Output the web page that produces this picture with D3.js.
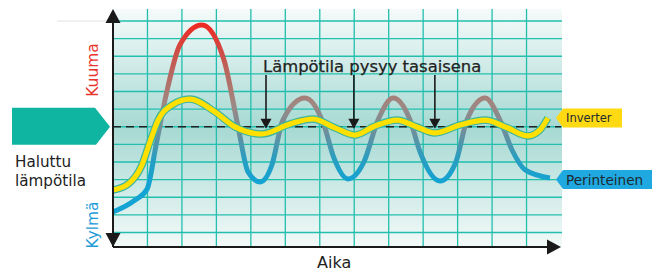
<!DOCTYPE html>
<html>
<head>
<meta charset="utf-8">
<script src="https://cdn.jsdelivr.net/npm/d3@7"></script>
<style>
  body { margin: 0; background: #fff; }
  svg { display: block; }
  text { font-family: "DejaVu Sans", sans-serif; }
</style>
</head>
<body>
<svg id="chart" width="660" height="273"></svg>
<script>
// time in grid columns, temperature in grid rows
const gridCols = [1, 2, 3, 4, 5, 6, 7, 8, 9, 10, 11, 12];
const gridRows = [0, 1, 2, 3, 4, 5, 6, 7, 8, 9, 10, 11, 12];

const traditionalT = [0, 0.64, 0.99, 1.25, 1.54, 1.94, 2.58, 3.22, 3.63, 3.92, 4.27, 4.61, 4.93, 5.57, 6.12, 6.41, 6.82, 7.28, 7.69, 8.13, 8.62, 8.91, 9.49, 9.95, 10.27, 10.8, 11.23, 11.58, 11.96, 12.68];
const traditionalV = [1.16, 1.84, 2.47, 4.96, 7.8, 10.64, 11.77, 9.79, 5.99, 3.43, 2.87, 3.83, 6.38, 7.63, 6.1, 4.23, 3.04, 4.0, 6.38, 7.63, 6.38, 4.57, 2.92, 4.0, 6.38, 7.63, 6.38, 4.68, 3.55, 3.09];

const inverterT = [0, 0.44, 0.84, 1.07, 1.31, 1.71, 2.23, 2.96, 3.54, 4.32, 5.14, 5.8, 6.44, 7.02, 7.6, 8.24, 8.82, 9.34, 10.07, 10.8, 11.44, 12.04, 12.39, 12.62];
const inverterV = [2.41, 2.75, 3.83, 5.13, 6.38, 7.23, 7.57, 6.84, 5.99, 5.59, 6.16, 6.44, 5.94, 5.53, 6.04, 6.38, 5.99, 5.65, 6.1, 6.38, 5.94, 5.48, 5.82, 6.5];

const setPoint = 6;
const arrowTimes = [4.44, 6.99, 9.34];
const arrowTop = 8.94;

const svg = d3.select('#chart');
const x = d3.scaleLinear().domain([0, 13]).range([113, 561]);
const y = d3.scaleLinear().domain([0, 12]).range([232.5, 21]);
const plotTop = 9, plotBottom = 247;

const defs = svg.append('defs');
const bg = defs.append('linearGradient').attr('id', 'bg')
  .attr('x1', 0).attr('y1', 0).attr('x2', 0).attr('y2', 1);
bg.append('stop').attr('offset', '0%').attr('stop-color', '#f5fbfa');
bg.append('stop').attr('offset', '50%').attr('stop-color', '#a7d9d3');
bg.append('stop').attr('offset', '100%').attr('stop-color', '#f3faf9');

const hot = defs.append('linearGradient').attr('id', 'hot')
  .attr('gradientUnits', 'userSpaceOnUse')
  .attr('x1', 0).attr('x2', 0).attr('y1', y(11.8)).attr('y2', y(2.9));
hot.append('stop').attr('offset', '0%').attr('stop-color', '#ee2a24');
hot.append('stop').attr('offset', '30%').attr('stop-color', '#b8665e');
hot.append('stop').attr('offset', '50%').attr('stop-color', '#a18680');
hot.append('stop').attr('offset', '68%').attr('stop-color', '#6f8f9b');
hot.append('stop').attr('offset', '85%').attr('stop-color', '#2a9dbf');
hot.append('stop').attr('offset', '100%').attr('stop-color', '#14a3d2');

// stray top line left of the axis
svg.append('line').attr('x1', 57).attr('x2', x(0)).attr('y1', y(12)).attr('y2', y(12))
  .attr('stroke', '#e2e2e2').attr('stroke-width', 1);

svg.append('rect').attr('x', x(0)).attr('y', plotTop)
  .attr('width', x(13) - x(0) + 1).attr('height', plotBottom - plotTop)
  .attr('fill', 'url(#bg)');

const grid = svg.append('g').attr('stroke', '#22bfae').attr('stroke-width', 1.3);
grid.selectAll('.h').data(gridRows).join('line').attr('class', 'h')
  .attr('x1', x(0)).attr('x2', x(13) + 1)
  .attr('y1', d => y(d)).attr('y2', d => y(d));
grid.selectAll('.v').data(gridCols).join('line').attr('class', 'v')
  .attr('x1', d => x(d)).attr('x2', d => x(d))
  .attr('y1', plotTop).attr('y2', plotBottom);

// desired temperature
svg.append('line')
  .attr('x1', x(0)).attr('x2', x(13))
  .attr('y1', y(setPoint)).attr('y2', y(setPoint))
  .attr('stroke', '#222').attr('stroke-width', 1.6)
  .attr('stroke-dasharray', '8,5');

const line = d3.line().curve(d3.curveMonotoneX)
  .x(d => x(d[0])).y(d => y(d[1]));

svg.append('path')
  .attr('d', line(d3.zip(traditionalT, traditionalV)))
  .attr('fill', 'none').attr('stroke', 'url(#hot)')
  .attr('stroke-width', 5).attr('stroke-linecap', 'butt');

const inv = line(d3.zip(inverterT, inverterV));
svg.append('path').attr('d', inv).attr('fill', 'none')
  .attr('stroke', '#3db59e').attr('stroke-width', 7.5);
svg.append('path').attr('d', inv).attr('fill', 'none')
  .attr('stroke', '#ffe000').attr('stroke-width', 5.2);

// arrows down to the set point
const arrows = svg.append('g');
arrowTimes.forEach(t => {
  const ax = x(t), tip = y(setPoint) + 2;
  arrows.append('line').attr('x1', ax).attr('x2', ax)
    .attr('y1', y(arrowTop)).attr('y2', tip - 8)
    .attr('stroke', '#1a1a1a').attr('stroke-width', 1.6);
  arrows.append('path')
    .attr('d', `M${ax - 5.5},${tip - 10}L${ax + 5.5},${tip - 10}L${ax},${tip}Z`)
    .attr('fill', '#1a1a1a');
});

svg.append('text').attr('x', 263).attr('y', 72)
  .attr('font-size', 16.4).attr('fill', '#222')
  .attr('stroke', '#222').attr('stroke-width', 0.25)
  .text('Lämpötila pysyy tasaisena');

// axes
const axes = svg.append('g').attr('fill', '#1a1a1a');
axes.append('line').attr('x1', x(0)).attr('x2', x(0)).attr('y1', plotTop + 2).attr('y2', plotBottom)
  .attr('stroke', '#1a1a1a').attr('stroke-width', 2);
axes.append('line').attr('x1', x(0)).attr('x2', x(13) - 4).attr('y1', plotBottom).attr('y2', plotBottom)
  .attr('stroke', '#1a1a1a').attr('stroke-width', 2);
axes.append('path').attr('d', `M${x(0) - 7.5},${plotTop + 14}L${x(0) + 7.5},${plotTop + 14}L${x(0)},${plotTop}Z`);
axes.append('path').attr('d', `M${x(0) - 7.5},${plotBottom - 14}L${x(0) + 7.5},${plotBottom - 14}L${x(0)},${plotBottom}Z`);
axes.append('path').attr('d', `M${x(13) - 14},${plotBottom - 7.5}L${x(13) - 14},${plotBottom + 7.5}L${x(13)},${plotBottom}Z`);

svg.append('text').attr('x', 317).attr('y', 268)
  .attr('font-size', 16).attr('fill', '#222').text('Aika');

svg.append('text').attr('transform', `translate(98,70) rotate(-90)`)
  .attr('text-anchor', 'middle').attr('font-size', 15.5).attr('fill', '#e8352b')
  .text('Kuuma');
svg.append('text').attr('transform', `translate(98,225) rotate(-90)`)
  .attr('text-anchor', 'middle').attr('font-size', 15.5).attr('fill', '#1e9bd7')
  .text('Kylmä');

// desired temperature marker
const sy = y(setPoint);
svg.append('path')
  .attr('d', `M12,${sy - 19}L95,${sy - 19}L110,${sy}L96,${sy + 18}L12,${sy + 18}Z`)
  .attr('fill', '#0fb5a1');
svg.append('text').attr('x', 15).attr('y', 167)
  .attr('font-size', 15.2).attr('fill', '#222').text('Haluttu');
svg.append('text').attr('x', 15).attr('y', 185.5)
  .attr('font-size', 15.2).attr('fill', '#222').text('lämpötila');

// series labels
function tag(yEnd, w, fill, label, size) {
  const g = svg.append('g');
  g.append('path')
    .attr('d', `M556,${yEnd}L563,${yEnd - 9.5}L${563 + w},${yEnd - 9.5}L${563 + w},${yEnd + 9.5}L563,${yEnd + 9.5}Z`)
    .attr('fill', fill);
  g.append('text').attr('x', 566).attr('y', yEnd + size * 0.37)
    .attr('font-size', size).attr('fill', '#1d2a30').text(label);
}
tag(y(inverterV[inverterV.length - 1]), 59, '#ffd912', 'Inverter', 11.5);
tag(y(traditionalV[traditionalV.length - 1]) + 1.5, 89, '#20a8e0', 'Perinteinen', 13.6);
</script>
</body>
</html>
